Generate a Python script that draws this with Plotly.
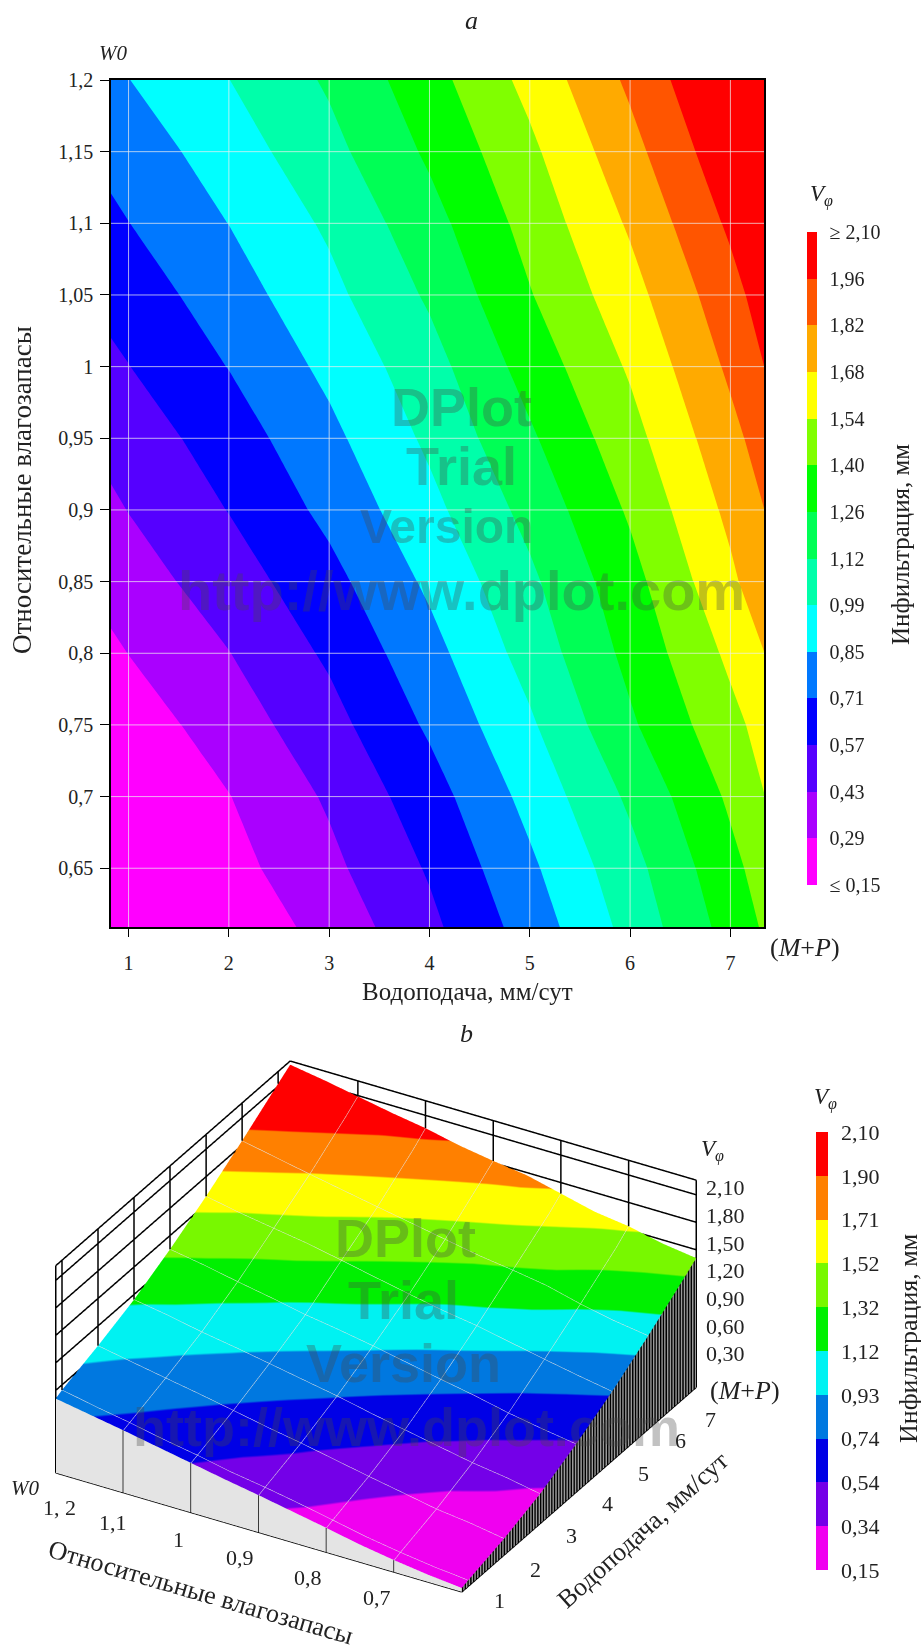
import numpy as np
import plotly.graph_objects as go

# ---------- data ----------
W_values = [0.60, 0.609, 0.65, 0.70, 0.75, 0.80, 0.85, 0.90, 0.95, 1.00, 1.05, 1.10, 1.15, 1.20]
MP_values = [0.825, 1, 2, 3, 4, 5, 6, 7, 7.335]
V_row_060 = [0.043, 0.066, 0.179, 0.325, 0.525, 0.755, 1.02, 1.308, 1.41]
V_row_0609 = [0.05, 0.075, 0.19, 0.337, 0.535, 0.767, 1.03, 1.318, 1.418]
V_row_065 = [0.08, 0.105, 0.24, 0.394, 0.582, 0.82, 1.075, 1.364, 1.46]
V_row_070 = [0.13, 0.155, 0.285, 0.447, 0.647, 0.89, 1.15, 1.427, 1.54]
V_row_075 = [0.19, 0.215, 0.356, 0.518, 0.728, 0.965, 1.243, 1.502, 1.59]
V_row_080 = [0.265, 0.291, 0.425, 0.59, 0.798, 1.04, 1.303, 1.572, 1.68]
V_row_085 = [0.335, 0.365, 0.498, 0.663, 0.872, 1.097, 1.354, 1.653, 1.77]
V_row_090 = [0.405, 0.432, 0.572, 0.743, 0.946, 1.168, 1.422, 1.716, 1.82]
V_row_095 = [0.47, 0.49, 0.637, 0.811, 1.012, 1.243, 1.492, 1.78, 1.88]
V_row_100 = [0.54, 0.565, 0.711, 0.88, 1.07, 1.32, 1.56, 1.847, 1.96]
V_row_105 = [0.61, 0.63, 0.782, 0.947, 1.145, 1.395, 1.63, 1.911, 2.02]
V_row_110 = [0.68, 0.705, 0.848, 1.008, 1.213, 1.453, 1.70, 1.985, 2.09]
V_row_115 = [0.745, 0.77, 0.915, 1.082, 1.287, 1.513, 1.774, 2.06, 2.16]
V_row_120 = [0.81, 0.844, 0.984, 1.144, 1.35, 1.585, 1.848, 2.128, 2.22]

top_band_colors = ["#ff00ff", "#aa00ff", "#5500ff", "#0000ff", "#0078ff", "#00ffff", "#00ffaa",
                   "#00ff55", "#00ff00", "#80ff00", "#ffff00", "#ffaa00", "#ff5500", "#ff0000"]
top_level_text = ["≤ 0,15", "0,29", "0,43", "0,57", "0,71", "0,85", "0,99", "1,12", "1,26", "1,40",
                  "1,54", "1,68", "1,82", "1,96", "≥ 2,10"]
bottom_band_colors = ["#f000f0", "#7400e8", "#0000e6", "#0078e0", "#00f2f2", "#00f000", "#78f800",
                      "#ffff00", "#ff8000", "#ff0000"]
bottom_levels = [0.15, 0.345, 0.54, 0.735, 0.93, 1.125, 1.32, 1.515, 1.71, 1.905, 2.10]
bottom_level_text = ["0,15", "0,34", "0,54", "0,74", "0,93", "1,12", "1,32", "1,52", "1,71", "1,90", "2,10"]

top_x_ticks = [1, 2, 3, 4, 5, 6, 7]
top_y_ticks = [0.65, 0.7, 0.75, 0.8, 0.85, 0.9, 0.95, 1, 1.05, 1.1, 1.15, 1.2]
top_y_text = ["0,65", "0,7", "0,75", "0,8", "0,85", "0,9", "0,95", "1", "1,05", "1,1", "1,15", "1,2"]
wall_z_ticks = [0.3, 0.6, 0.9, 1.2, 1.5, 1.8, 2.1]
wall_z_text = ["0,30", "0,60", "0,90", "1,20", "1,50", "1,80", "2,10"]
wall_W_ticks = [0.7, 0.8, 0.9, 1.0, 1.1]
Z_TOP = 2.26

V = np.array([V_row_060, V_row_0609, V_row_065, V_row_070, V_row_075, V_row_080, V_row_085, V_row_090,
              V_row_095, V_row_100, V_row_105, V_row_110, V_row_115, V_row_120])
MP = np.array(MP_values)
Wv = np.array(W_values)

W, H = 921, 1645
fx = lambda p: p / W
fy = lambda p: 1 - p / H
SERIF = "Liberation Serif"
INK = "#222222"


def step_scale(colors):
    n = len(colors)
    out = []
    for i, c in enumerate(colors):
        out += [[i / n, c], [(i + 1) / n, c]]
    return out


fig = go.Figure()

# ---------- chart a ----------
fig.add_trace(go.Contour(
    x=MP_values, y=W_values, z=V,
    zmin=0.15, zmax=2.10, colorscale=step_scale(top_band_colors),
    autocontour=False,
    contours=dict(start=0.15, end=2.10, size=1.95 / 14, coloring="fill", showlines=False),
    line=dict(width=0, smoothing=0),
    hoverinfo="skip",
    colorbar=dict(
        lenmode="pixels", len=653, thicknessmode="pixels", thickness=10,
        x=fx(807), xanchor="left", y=fy(232), yanchor="top", xpad=0, ypad=0,
        tickmode="array", tickvals=[0.15 + i * 1.95 / 14 for i in range(15)], ticktext=top_level_text,
        ticks="outside", ticklen=9, tickcolor="rgba(0,0,0,0)",
        tickfont=dict(family=SERIF, size=20, color=INK), outlinewidth=0, borderwidth=0,
    ),
))
fig.update_layout(
    xaxis=dict(domain=[fx(111), fx(764)], range=[0.825, 7.335], tickmode="array",
               tickvals=top_x_ticks, ticks="outside", ticklen=8, tickcolor="black",
               showline=True, mirror=True, linecolor="black", linewidth=1.5, showgrid=False,
               zeroline=False, tickfont=dict(family=SERIF, size=20, color=INK),
               ticklabelstandoff=9, anchor="y"),
    yaxis=dict(domain=[fy(927), fy(80)], range=[0.609, 1.2], tickmode="array",
               tickvals=top_y_ticks, ticktext=top_y_text, ticks="outside", ticklen=9,
               tickcolor="black", showline=True, mirror=True, linecolor="black", linewidth=1.5,
               showgrid=False, zeroline=False, tickfont=dict(family=SERIF, size=20, color=INK),
               ticklabelstandoff=3, anchor="x"),
)
shapes = []
GRID = "rgba(238,238,238,0.72)"
for t in top_x_ticks:
    shapes.append(dict(type="line", xref="x", yref="y", x0=t, x1=t, y0=0.609, y1=1.2, line=dict(color=GRID, width=1)))
for t in top_y_ticks[:-1]:
    shapes.append(dict(type="line", xref="x", yref="y", x0=0.825, x1=7.335, y0=t, y1=t, line=dict(color=GRID, width=1)))

# ---------- chart b ----------
FLAT = dict(ambient=1, diffuse=0, specular=0, fresnel=0, roughness=1)
fig.add_trace(go.Surface(
    x=MP_values, y=W_values, z=V, surfacecolor=V,
    cmin=0.15, cmax=2.10, colorscale=step_scale(bottom_band_colors),
    lighting=FLAT, hoverinfo="skip", scene="scene",
    contours=dict(
        x=dict(show=True, start=1, end=7, size=1, color="#e4e4e4", width=1, highlight=False),
        y=dict(show=True, start=0.7, end=1.1, size=0.1, color="#e4e4e4", width=1, highlight=False),
        z=dict(show=False, highlight=False),
    ),
    colorbar=dict(
        lenmode="pixels", len=438, thicknessmode="pixels", thickness=12,
        x=fx(816), xanchor="left", y=fy(1132), yanchor="top", xpad=0, ypad=0,
        tickmode="array", tickvals=bottom_levels, ticktext=bottom_level_text,
        ticks="outside", ticklen=9, tickcolor="rgba(0,0,0,0)",
        tickfont=dict(family=SERIF, size=22, color=INK), outlinewidth=0, borderwidth=0,
    ),
))

# side faces as flat meshes
left_edge = V[:, 0]
n_w = len(Wv)
fig.add_trace(go.Mesh3d(
    x=np.full(2 * n_w, MP[0]), y=np.concatenate([Wv, Wv]), z=np.concatenate([np.zeros(n_w), left_edge]),
    i=[k for k in range(n_w - 1) for _ in (0, 1)],
    j=[v for k in range(n_w - 1) for v in (k + 1, k + 1 + n_w)],
    k=[v for k in range(n_w - 1) for v in (k + 1 + n_w, k + n_w)],
    color="#e4e4e4", flatshading=True, lighting=FLAT, hoverinfo="skip", scene="scene"))

front_edge = V[0, :]
x0, x1, w0, w1 = MP[0], MP[-1], Wv[0], Wv[-1]
# hatching of the front face: alternating black / grey strips
strip_edges = np.linspace(x0, x1, 2 * 84 + 1)
hx, hz, hi, hj, hk, hc = [], [], [], [], [], []
for n in range(len(strip_edges) - 1):
    a, b = strip_edges[n], strip_edges[n + 1]
    m = len(hx)
    hx += [a, b, b, a]
    hz += [0, 0, np.interp(b, MP, front_edge), np.interp(a, MP, front_edge)]
    hi += [m, m]
    hj += [m + 1, m + 2]
    hk += [m + 2, m + 3]
    c = "#000000" if n % 2 == 0 else "#9a9a9a"
    hc += [c, c]
fig.add_trace(go.Mesh3d(x=hx, y=[w0] * len(hx), z=hz, i=hi, j=hj, k=hk, facecolor=hc,
                        flatshading=True, lighting=FLAT, hoverinfo="skip", scene="scene"))

lx, ly, lz = [], [], []


def seg(a, b):
    lx.extend([a[0], b[0], None])
    ly.extend([a[1], b[1], None])
    lz.extend([a[2], b[2], None])


# floor outline and corners
seg((x0, w1, 0), (x0, w0, 0))
seg((x0, w0, 0), (x1, w0, 0))
seg((x0, w1, 0), (x0, w1, Z_TOP))
seg((x1, w0, 0), (x1, w0, Z_TOP))
# back walls
for z in wall_z_ticks + [Z_TOP]:
    seg((x0, w1, z), (x1, w1, z))
    seg((x1, w1, z), (x1, w0, z))
for i, t in enumerate(top_x_ticks):
    seg((t, w1, V[-1, i + 1]), (t, w1, Z_TOP))
for t in wall_W_ticks:
    seg((x1, t, np.interp(t, Wv, V[:, -1])), (x1, t, Z_TOP))
    seg((x0, t, 0), (x0, t, np.interp(t, Wv, V[:, 0])))
fig.add_trace(go.Scatter3d(x=lx, y=ly, z=lz, mode="lines", line=dict(color="black", width=3),
                           hoverinfo="skip", showlegend=False, scene="scene"))

hidden = dict(visible=False, showgrid=False, zeroline=False, showbackground=False, showticklabels=False,
              showspikes=False, title="")
ZOOM = 1.655
eye_dir = np.array([-0.7462, -0.4325, 0.5061]) * 6.0
fig.update_layout(scene=dict(
    domain=dict(x=[0, 752 / W], y=[fy(1612), fy(1041)]),
    xaxis=dict(range=[x0 - 0.02, x1 + 0.02], **hidden),
    yaxis=dict(range=[w0 - 0.002, w1 + 0.002], **hidden),
    zaxis=dict(range=[-0.01, Z_TOP + 0.01], **hidden),
    aspectmode="manual", aspectratio=dict(x=0.9955 * ZOOM, y=1 * ZOOM, z=0.5126 * ZOOM),
    camera=dict(projection=dict(type="orthographic"), up=dict(x=0, y=0, z=1), center=dict(x=0, y=0, z=0),
                eye=dict(x=eye_dir[0], y=eye_dir[1], z=eye_dir[2])),
    bgcolor="rgba(0,0,0,0)",
))

# ---------- texts ----------
ann = []


def T(px, py, text, size=20, angle=0, color=INK, family=SERIF, xanchor="center"):
    ann.append(dict(xref="paper", yref="paper", x=fx(px), y=fy(py), text=text, showarrow=False, xanchor=xanchor,
                    yanchor="middle", textangle=angle, font=dict(family=family, size=size, color=color)))


T(471, 20, "<i>a</i>", 26)
T(466, 1033, "<i>b</i>", 26)
T(113, 53, "<i>W0</i>", 21)
T(805, 947, "(<i>M</i>+<i>P</i>)", 26)
T(467, 991, "Водоподача, мм/сут", 25)
T(22, 490, "Относительные влагозапасы", 27, -90)
T(821, 195, "<i>V<sub>φ</sub></i>", 23)
T(900, 545, "Инфильтрация, мм", 25, -90)
# chart b texts
T(825, 1098, "<i>V<sub>φ</sub></i>", 23)
T(908, 1339, "Инфильтрация, мм", 26, -90)
T(712, 1150, "<i>V<sub>φ</sub></i>", 23)
T(745, 1390, "(<i>M</i>+<i>P</i>)", 26)
T(25, 1488, "<i>W0</i>", 21)
for txt, py in zip(wall_z_text, [1353, 1326, 1298, 1270, 1243, 1215, 1187]):
    T(725, py, txt, 22)
for txt, (px, py) in zip(["1", "2", "3", "4", "5", "6", "7"],
                         [(499, 1600), (535, 1569), (571, 1535), (607, 1503), (643, 1473), (680, 1440), (710, 1419)]):
    T(px, py, txt, 22)
for txt, (px, py) in zip(["1, 2", "1,1", "1", "0,9", "0,8", "0,7"],
                         [(59, 1507), (113, 1522), (178, 1539), (240, 1557), (308, 1577), (377, 1597)]):
    T(px, py, txt, 22)
T(201, 1592, "Относительные влагозапасы", 26, 16.2)
T(642, 1530, "Водоподача, мм/сут", 26, -41.9)
# watermark
WM = "rgba(70,70,70,0.33)"
for (px, py), txt, s in zip([(461, 407), (461, 466), (446, 527), (461, 590)],
                            ["DPlot", "Trial", "Version", "http://www.dplot.com"], [54, 54, 48, 56]):
    T(px, py, f"<b>{txt}</b>", s, color=WM, family="Liberation Sans")
for (px, py), txt in zip([(405, 1238), (403, 1300), (403, 1363), (406, 1427)],
                         ["DPlot", "Trial", "Version", "http://www.dplot.com"]):
    T(px, py, f"<b>{txt}</b>", 54, color=WM, family="Liberation Sans")

fig.update_layout(width=W, height=H, margin=dict(l=0, r=0, t=0, b=0, pad=0, autoexpand=False),
                  paper_bgcolor="white", plot_bgcolor="white", showlegend=False, annotations=ann, shapes=shapes)
fig.write_html("out.html", config=dict(displayModeBar=False),
               post_script="document.body.style.margin='0';document.body.style.padding='0';")
